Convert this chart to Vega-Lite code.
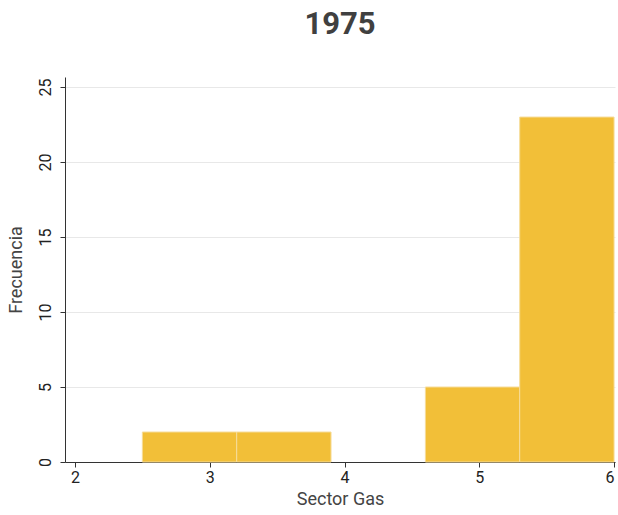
{
  "$schema": "https://vega.github.io/schema/vega-lite/v6.json",
  "width": 550,
  "height": 385,
  "autosize": {"type": "none"},
  "padding": {"left": 65, "top": 77, "right": 3, "bottom": 53},
  "background": "white",
  "title": {
    "text": "1975",
    "font": "Roboto",
    "fontSize": 31,
    "fontWeight": "bold",
    "color": "#404040",
    "anchor": "middle",
    "offset": 36
  },
  "data": {
    "values": [
      {"bin_start": 2.5, "bin_end": 3.2, "count": 2},
      {"bin_start": 3.2, "bin_end": 3.9, "count": 2},
      {"bin_start": 3.9, "bin_end": 4.6, "count": 0},
      {"bin_start": 4.6, "bin_end": 5.3, "count": 5},
      {"bin_start": 5.3, "bin_end": 6.0, "count": 23}
    ]
  },
  "mark": {"type": "bar", "color": "#F2BF38", "stroke": "#f6dc9a", "strokeWidth": 1},
  "encoding": {
    "x": {
      "field": "bin_start",
      "type": "quantitative",
      "scale": {"domain": [1.926, 6.007], "nice": false, "zero": false},
      "axis": {
        "title": "Sector Gas",
        "values": [2, 3, 4, 5, 6],
        "format": "d",
        "grid": false,
        "domainColor": "#333333",
        "tickColor": "#333333",
        "tickSize": 5,
        "labelFont": "Roboto",
        "labelFontSize": 16,
        "labelColor": "#222222",
        "labelPadding": 2,
        "titleFont": "Roboto",
        "titleFontSize": 18,
        "titleFontWeight": "normal",
        "titleColor": "#444444",
        "titlePadding": 5
      }
    },
    "x2": {"field": "bin_end"},
    "y": {
      "field": "count",
      "type": "quantitative",
      "scale": {"domain": [0, 25.67], "nice": false},
      "axis": {
        "title": "Frecuencia",
        "values": [0, 5, 10, 15, 20, 25],
        "grid": true,
        "gridColor": "#e8e8e8",
        "domainColor": "#333333",
        "tickColor": "#333333",
        "tickSize": 5,
        "labelAngle": -90,
        "labelAlign": "center",
        "labelBaseline": "bottom",
        "labelFont": "Roboto",
        "labelFontSize": 16,
        "labelColor": "#222222",
        "labelPadding": 7,
        "titleFont": "Roboto",
        "titleFontSize": 18,
        "titleFontWeight": "normal",
        "titleColor": "#444444",
        "titlePadding": 12
      }
    },
    "y2": {"datum": 0},
    "strokeOpacity": {"condition": {"test": "datum.count == 0", "value": 0}, "value": 1}
  },
  "config": {"view": {"stroke": null}}
}
